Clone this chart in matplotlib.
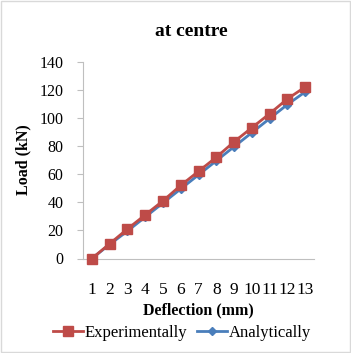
import matplotlib.pyplot as plt
import numpy as np

# data
deflection = ['1', '2', '3', '4', '5', '6', '7', '8', '9', '10', '11', '12', '13']
experimentally = [0, 10.5, 21, 31, 41, 52, 62, 72, 83, 93, 103, 113.5, 122]
analytically = [0, 10, 19.5, 29.5, 39.5, 49.5, 59.5, 69.5, 79.5, 89.5, 99.5, 109.5, 118.5]

plt.rcParams['font.family'] = ['Liberation Serif', 'DejaVu Serif']

fig = plt.figure(figsize=(3.51, 3.53), dpi=100)
ax = fig.add_axes([83 / 351, 1 - 258.5 / 353, 231 / 351, 196.8 / 353])

x = np.arange(len(deflection))
ax.plot(x, analytically, color='#4a7ebb', marker='D', markersize=4.5, linewidth=2,
        label='Analytically', zorder=2)
ax.plot(x, experimentally, color='#be4b48', marker='s', markersize=7.5, linewidth=2,
        markeredgecolor='#be4b48', label='Experimentally', zorder=3)

ax.set_xlim(-0.5, len(deflection) - 0.5)
ax.set_ylim(0, 140)
ax.set_yticks(range(0, 141, 20))
ax.set_xticks(x)
ax.set_xticklabels(deflection)
ax.tick_params(axis='both', labelsize=11.5, labelcolor='black')
ax.tick_params(axis='x', length=0, pad=17, labelsize=12.5)
ax.tick_params(axis='y', length=4, color='#bfbfbf', pad=10)
for c in ax.get_children():
    c.set_clip_on(False)

for s in ['top', 'right']:
    ax.spines[s].set_visible(False)
ax.spines['left'].set_color('#bfbfbf')
ax.spines['bottom'].set_color('#bfbfbf')

ax.set_ylabel('Load (kN)', fontsize=11.5, fontweight='bold', labelpad=6)
fig.text(191 / 351, 1 - 31 / 353, 'at centre', ha='center', va='center', fontsize=14, fontweight='bold')
fig.text(0.565, 1 - 310 / 353, 'Deflection (mm)', ha='center', va='center', fontsize=11.5, fontweight='bold')

h, l = ax.get_legend_handles_labels()
fig.legend(h[::-1], l[::-1], loc='center', bbox_to_anchor=(182 / 351, 1 - 333 / 353), ncol=2,
           frameon=False, fontsize=12, handlelength=1.8, handletextpad=0.1, columnspacing=0.6)

border = plt.Rectangle((0.003, 0.003), 0.994, 0.994, transform=fig.transFigure,
                       fill=False, edgecolor='#d9d9d9', linewidth=1)
fig.patches.append(border)

fig.savefig('out.png', dpi=100)
